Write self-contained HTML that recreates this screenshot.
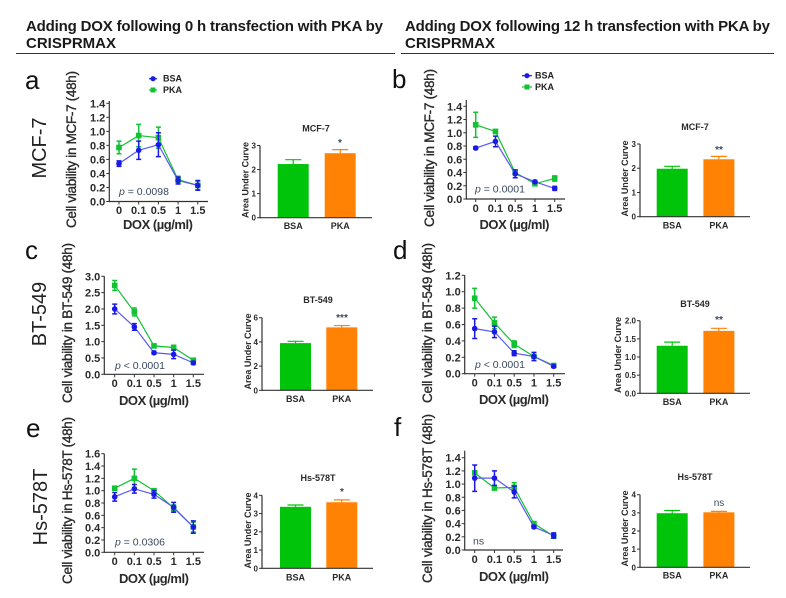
<!DOCTYPE html>
<html lang="en">
<head>
<meta charset="utf-8">
<title>DOX viability panels</title>
<style>
html,body{margin:0;padding:0;background:#fff;}
svg{display:block;font-family:"Liberation Sans",Arial,sans-serif;filter:blur(0.3px);}
</style>
</head>
<body>
<svg id="figure" width="786" height="598" viewBox="0 0 786 598" xmlns="http://www.w3.org/2000/svg">
  <g font-weight="bold" font-size="15" fill="#1a1a1a">
    <text x="26" y="31" textLength="357" lengthAdjust="spacing">Adding DOX following 0 h transfection with PKA by</text>
    <text x="26" y="48">CRISPRMAX</text>
  </g>
  <line x1="16" x2="395" y1="53.5" y2="53.5" stroke="#333" stroke-width="1"/>
  <g font-weight="bold" font-size="15" fill="#1a1a1a">
    <text x="405" y="31" textLength="365" lengthAdjust="spacing">Adding DOX following 12 h transfection with PKA by</text>
    <text x="405" y="48">CRISPRMAX</text>
  </g>
  <line x1="401" x2="774" y1="53.5" y2="53.5" stroke="#333" stroke-width="1"/>

  <g font-size="26" fill="#111">
    <text x="25" y="89">a</text>
    <text x="392" y="88">b</text>
    <text x="25" y="259">c</text>
    <text x="393" y="259">d</text>
    <text x="26" y="437">e</text>
    <text x="394" y="436">f</text>
  </g>
  <g font-size="20" fill="#222" text-anchor="middle">
    <text transform="translate(46 148) rotate(-90)">MCF-7</text>
    <text transform="translate(46 314) rotate(-90)">BT-549</text>
    <text transform="translate(47 507) rotate(-90)">Hs-578T</text>
  </g>

  <g font-size="9" font-weight="bold" fill="#222">
    <line x1="149" x2="157" y1="78.7" y2="78.7" stroke="#1a1ae6" stroke-width="1.2"/>
    <circle cx="153" cy="78.7" r="2.6" fill="#1a1ae6"/>
    <text x="163" y="81.7">BSA</text>
    <line x1="149" x2="157" y1="90" y2="90" stroke="#12c232" stroke-width="1.2"/>
    <rect x="150.5" y="87.5" width="5" height="5" fill="#12c232"/>
    <text x="163" y="93">PKA</text>
  </g>
  <g font-size="9" font-weight="bold" fill="#222">
    <line x1="522" x2="532" y1="75.7" y2="75.7" stroke="#1a1ae6" stroke-width="1.2"/>
    <circle cx="527" cy="75.7" r="2.6" fill="#1a1ae6"/>
    <text x="535" y="78.7">BSA</text>
    <line x1="522" x2="532" y1="87" y2="87" stroke="#12c232" stroke-width="1.2"/>
    <rect x="524.5" y="84.5" width="5" height="5" fill="#12c232"/>
    <text x="535" y="90">PKA</text>
  </g>
</svg>

<script>
// ---- data ----
var doseLabels = ['0', '0.1', '0.5', '1', '1.5'];
var barCategories = ['BSA', 'PKA'];

var aBsa = [0.54, 0.73, 0.81, 0.30, 0.23];
var aBsaErr = [0.04, 0.13, 0.17, 0.05, 0.07];
var aPka = [0.77, 0.94, 0.91, 0.31, 0.23];
var aPkaErr = [0.09, 0.16, 0.15, 0.05, 0.06];
var aTicks = ['0.0', '0.2', '0.4', '0.6', '0.8', '1.0', '1.2', '1.4'];
var aAuc = [2.23, 2.68];
var aAucErr = [0.18, 0.15];
var aAucTicks = ['0', '1', '2', '3'];

var bBsa = [0.77, 0.87, 0.38, 0.26, 0.16];
var bBsaErr = [0.02, 0.08, 0.06, 0.02, 0.03];
var bPka = [1.12, 1.02, 0.40, 0.23, 0.31];
var bPkaErr = [0.19, 0.03, 0.03, 0.03, 0.04];
var bTicks = ['0.0', '0.2', '0.4', '0.6', '0.8', '1.0', '1.2', '1.4'];
var bAuc = [1.98, 2.37];
var bAucErr = [0.10, 0.12];
var bAucTicks = ['0', '1', '2', '3'];

var cBsa = [2.00, 1.45, 0.66, 0.61, 0.35];
var cBsaErr = [0.15, 0.10, 0.04, 0.13, 0.05];
var cPka = [2.72, 1.91, 0.87, 0.82, 0.43];
var cPkaErr = [0.15, 0.12, 0.05, 0.07, 0.03];
var cTicks = ['0.0', '0.5', '1.0', '1.5', '2.0', '2.5', '3.0'];
var cAuc = [3.90, 5.20];
var cAucErr = [0.15, 0.15];
var cAucTicks = ['0', '2', '4', '6'];

var dBsa = [0.55, 0.51, 0.25, 0.21, 0.09];
var dBsaErr = [0.12, 0.07, 0.03, 0.05, 0.01];
var dPka = [0.92, 0.62, 0.36, 0.21, 0.10];
var dPkaErr = [0.12, 0.07, 0.04, 0.02, 0.01];
var dTicks = ['0.0', '0.2', '0.4', '0.6', '0.8', '1.0', '1.2'];
var dAuc = [1.31, 1.72];
var dAucErr = [0.10, 0.07];
var dAucTicks = ['0.0', '0.5', '1.0', '1.5', '2.0'];

var eBsa = [0.90, 1.03, 0.94, 0.73, 0.41];
var eBsaErr = [0.07, 0.07, 0.06, 0.08, 0.10];
var ePka = [1.04, 1.20, 1.00, 0.72, 0.41];
var ePkaErr = [0.01, 0.15, 0.03, 0.05, 0.08];
var eTicks = ['0.0', '0.2', '0.4', '0.6', '0.8', '1.0', '1.2', '1.4', '1.6'];
var eAuc = [3.37, 3.62];
var eAucErr = [0.10, 0.13];
var eAucTicks = ['0', '1', '2', '3', '4'];

var fBsa = [1.09, 1.09, 0.88, 0.35, 0.22];
var fBsaErr = [0.20, 0.11, 0.09, 0.02, 0.04];
var fPka = [1.17, 0.94, 0.95, 0.40, 0.21];
var fPkaErr = [0.02, 0.03, 0.07, 0.03, 0.03];
var fTicks = ['0.0', '0.2', '0.4', '0.6', '0.8', '1.0', '1.2', '1.4'];
var fAuc = [2.98, 3.03];
var fAucErr = [0.15, 0.05];
var fAucTicks = ['0', '1', '2', '3', '4'];

// ---- layout ----
var BLUE = '#1a1ae6', BLUE_LINE = '#5a5af0', GREEN = '#12c232', BAR_GREEN = '#00c40a', BAR_ORANGE = '#ff8205', INK = '#2a2a2a';
var svg = document.getElementById('figure');
var NS = 'http://www.w3.org/2000/svg';

function make(tag, parent, attrs) {
  var n = document.createElementNS(NS, tag);
  for (var k in attrs) n.setAttribute(k, attrs[k]);
  parent.appendChild(n);
  return n;
}
function label(parent, str, x, y, size, weight, anchor, len, rotate, fill) {
  var attrs = {'font-size': size, 'font-weight': weight, 'text-anchor': anchor, fill: fill || INK};
  if (rotate) attrs.transform = 'translate(' + x + ' ' + y + ') rotate(-90)';
  else { attrs.x = x; attrs.y = y; }
  if (len) { attrs.textLength = len; attrs.lengthAdjust = 'spacing'; }
  var t = make('text', parent, attrs);
  t.textContent = str;
  return t;
}

function drawLinePanel(p) {
  var g = make('g', svg, {});
  
  

  var unit = (p.y0 - p.yRef) / parseFloat(p.ticks[p.ticks.length - 1]);
  var yScale = function (v) { return p.y0 - v * unit; };
  var xScale = function (i) { return p.x0 + i * p.xStep; };

  var yAxis = make('line', g, {x1: p.axisX, x2: p.axisX, y1: p.y0 + 0.6, y2: p.axisTop, stroke: '#333', 'stroke-width': 1.2});
  
  
  var xAxis = make('line', g, {x1: p.axisX, x2: p.axisEnd, y1: p.y0, y2: p.y0, stroke: '#333', 'stroke-width': 1.2});
  
  

  p.ticks.forEach(function (t) {
    var y = yScale(parseFloat(t));
    var tick = make('line', g, {x1: p.axisX - 3, x2: p.axisX, y1: y, y2: y, stroke: '#333', 'stroke-width': 1});
    
    
    var tl = label(g, t, p.axisX - 4, y + 4, 11, 'bold', 'end', 0, false);
    
    
  });
  doseLabels.forEach(function (d, i) {
    var x = xScale(i);
    var tick = make('line', g, {x1: x, x2: x, y1: p.y0, y2: p.y0 + 3, stroke: '#333', 'stroke-width': 1});
    
    
    var tl = label(g, d, x, p.xLabelY, 11, 'bold', 'middle', 0, false);
    
    
  });

  var ySeries = [
    {name: 'pka', vals: p.pka, errs: p.pkaErr, color: GREEN, line: GREEN, square: true},
    {name: 'bsa', vals: p.bsa, errs: p.bsaErr, color: BLUE, line: BLUE_LINE, square: false}
  ];
  ySeries.forEach(function (s) {
    var pts = s.vals.map(function (v, i) { return xScale(i) + ',' + yScale(v); }).join(' ');
    var pl = make('polyline', g, {points: pts, fill: 'none', stroke: s.line, 'stroke-width': 1.2});
    
    
    s.vals.forEach(function (v, i) {
      var x = xScale(i), y = yScale(v), e = s.errs[i];
      var eb = make('path', g, {
        d: 'M' + x + ' ' + yScale(v - e) + 'V' + yScale(v + e) +
           'M' + (x - 2.5) + ' ' + yScale(v + e) + 'H' + (x + 2.5) +
           'M' + (x - 2.5) + ' ' + yScale(v - e) + 'H' + (x + 2.5),
        fill: 'none', stroke: s.color, 'stroke-width': 1.5
      });
      
      
      var mark = s.square
        ? make('rect', g, {x: x - 2.8, y: y - 2.8, width: 5.6, height: 5.6, fill: s.color})
        : make('circle', g, {cx: x, cy: y, r: 2.8, fill: s.color});
      
      
    });
  });

  var yt = label(g, p.yTitle, p.yTitleX, p.yTitleY, 13.5, 'normal', 'middle', p.yTitleLen, true);
  yt.setAttribute('stroke', INK);
  yt.setAttribute('stroke-width', '0.35');
  
  
  var xt = label(g, 'DOX (\u00b5g/ml)', p.xTitleX, p.xTitleBase, 13, 'bold', 'middle', 70, false);
  
  

  var st = make('text', g, {x: p.pX, y: p.pY, 'font-size': 10.5, fill: '#3a4a60'});
  
  
  if (p.pText === 'ns') {
    st.textContent = 'ns';
  } else {
    var it = make('tspan', st, {'font-style': 'italic'});
    it.textContent = 'p';
    var rest = make('tspan', st, {});
    rest.textContent = ' ' + p.pText;
  }
}

function drawBarPanel(p) {
  var g = make('g', svg, {});
  
  

  var unit = (p.y0 - p.yRef) / parseFloat(p.ticks[p.ticks.length - 1]);
  var yScale = function (v) { return p.y0 - v * unit; };
  var barX = function (i) { return p.barStart + i * p.barStep; };
  var barW = 31;
  var colors = [BAR_GREEN, BAR_ORANGE];

  p.values.forEach(function (v, i) {
    var x = barX(i), top = yScale(v), hi = yScale(v + p.errs[i]), c = colors[i];
    var eb = make('path', g, {
      d: 'M' + (x + barW / 2) + ' ' + top + 'V' + hi + 'M' + (x + barW / 2 - 8) + ' ' + hi + 'H' + (x + barW / 2 + 8),
      fill: 'none', stroke: c, 'stroke-width': 1.2
    });
    
    
    var r = make('rect', g, {x: x, y: top, width: barW, height: p.y0 - top, fill: c});
    
    
    var tl = label(g, barCategories[i], x + barW / 2, p.labelY, 9, 'bold', 'middle', 0, false);
    
    
  });

  var yAxis = make('line', g, {x1: p.axisX, x2: p.axisX, y1: p.y0 + 0.6, y2: p.yRef, stroke: '#333', 'stroke-width': 1.2});
  
  
  var xAxis = make('line', g, {x1: p.axisX, x2: p.axisEnd, y1: p.y0, y2: p.y0, stroke: '#333', 'stroke-width': 1.2});
  
  

  p.ticks.forEach(function (t) {
    var y = yScale(parseFloat(t));
    var tick = make('line', g, {x1: p.axisX - 3, x2: p.axisX, y1: y, y2: y, stroke: '#333', 'stroke-width': 1});
    
    
    var tl = label(g, t, p.axisX - 4, y + 3, 8, 'bold', 'end', 0, false);
    
    
  });

  var ti = label(g, p.title, p.titleX, p.titleY, 9, 'bold', 'middle', 0, false);
  
  
  var yt = label(g, 'Area Under Curve', p.yTitleX, p.yTitleY, 9, 'bold', 'middle', 76, true);
  
  
  var sig = label(g, p.sig, p.sigX, p.sigY, 10, p.sig === 'ns' ? 'normal' : 'bold', 'middle', 0, false, '#3a4a60');
  
  
}

// ---- panels ----
drawLinePanel({id: 'a', bsa: aBsa, bsaErr: aBsaErr, pka: aPka, pkaErr: aPkaErr, ticks: aTicks,
  axisX: 109.3, axisTop: 101, axisEnd: 208, y0: 201.5, yRef: 103.3, x0: 119, xStep: 19.7, xLabelY: 214,
  yTitle: 'Cell viability in MCF-7 (48h)', yTitleX: 76, yTitleY: 149.5, yTitleLen: 157,
  xTitleX: 158, xTitleBase: 229, pX: 119, pY: 195, pText: '= 0.0098'});
drawLinePanel({id: 'b', bsa: bBsa, bsaErr: bBsaErr, pka: bPka, pkaErr: bPkaErr, ticks: bTicks,
  axisX: 466.3, axisTop: 100, axisEnd: 565, y0: 199, yRef: 106.3, x0: 475.7, xStep: 19.75, xLabelY: 212,
  yTitle: 'Cell viability in MCF-7 (48h)', yTitleX: 434, yTitleY: 148, yTitleLen: 158,
  xTitleX: 514.5, xTitleBase: 229, pX: 475, pY: 192.7, pText: '= 0.0001'});
drawLinePanel({id: 'c', bsa: cBsa, bsaErr: cBsaErr, pka: cPka, pkaErr: cPkaErr, ticks: cTicks,
  axisX: 104.3, axisTop: 276.3, axisEnd: 204, y0: 374.3, yRef: 276.3, x0: 114.7, xStep: 19.65, xLabelY: 387,
  yTitle: 'Cell viability in BT-549 (48h)', yTitleX: 72, yTitleY: 323, yTitleLen: 160,
  xTitleX: 154, xTitleBase: 405, pX: 115, pY: 369, pText: '< 0.0001'});
drawLinePanel({id: 'd', bsa: dBsa, bsaErr: dBsaErr, pka: dPka, pkaErr: dPkaErr, ticks: dTicks,
  axisX: 464.7, axisTop: 275.3, axisEnd: 565, y0: 373.7, yRef: 275.3, x0: 474.7, xStep: 19.75, xLabelY: 386.7,
  yTitle: 'Cell viability in BT-549 (48h)', yTitleX: 432, yTitleY: 323, yTitleLen: 160,
  xTitleX: 514, xTitleBase: 404, pX: 475, pY: 368, pText: '< 0.0001'});
drawLinePanel({id: 'e', bsa: eBsa, bsaErr: eBsaErr, pka: ePka, pkaErr: ePkaErr, ticks: eTicks,
  axisX: 104.3, axisTop: 453.7, axisEnd: 204, y0: 552.3, yRef: 453.7, x0: 114.7, xStep: 19.65, xLabelY: 565,
  yTitle: 'Cell viability in Hs-578T (48h)', yTitleX: 72, yTitleY: 500.5, yTitleLen: 167,
  xTitleX: 154, xTitleBase: 583, pX: 115, pY: 545.7, pText: '= 0.0306'});
drawLinePanel({id: 'f', bsa: fBsa, bsaErr: fBsaErr, pka: fPka, pkaErr: fPkaErr, ticks: fTicks,
  axisX: 464.7, axisTop: 450.7, axisEnd: 563, y0: 550, yRef: 457.7, x0: 474.7, xStep: 19.75, xLabelY: 563,
  yTitle: 'Cell viability in Hs-578T (48h)', yTitleX: 432, yTitleY: 498.5, yTitleLen: 169,
  xTitleX: 514, xTitleBase: 581, pX: 473, pY: 544.7, pText: 'ns'});

drawBarPanel({id: 'a', title: 'MCF-7', values: aAuc, errs: aAucErr, ticks: aAucTicks,
  axisX: 260, axisEnd: 372, y0: 217.7, yRef: 145.5, barStart: 277.7, barStep: 47, labelY: 229,
  titleX: 316, titleY: 131.7, yTitleX: 248.5, yTitleY: 180, sig: '*', sigX: 340, sigY: 146});
drawBarPanel({id: 'b', title: 'MCF-7', values: bAuc, errs: bAucErr, ticks: bAucTicks,
  axisX: 640, axisEnd: 750, y0: 216.7, yRef: 144, barStart: 656.7, barStep: 46.7, labelY: 228.7,
  titleX: 695, titleY: 130, yTitleX: 628, yTitleY: 178.5, sig: '**', sigX: 719, sigY: 153});
drawBarPanel({id: 'c', title: 'BT-549', values: cAuc, errs: cAucErr, ticks: cAucTicks,
  axisX: 262, axisEnd: 373, y0: 390.3, yRef: 317.7, barStart: 280, barStep: 46.3, labelY: 402,
  titleX: 318, titleY: 303, yTitleX: 251, yTitleY: 351.5, sig: '***', sigX: 342, sigY: 321});
drawBarPanel({id: 'd', title: 'BT-549', values: dAuc, errs: dAucErr, ticks: dAucTicks,
  axisX: 640, axisEnd: 750, y0: 393.3, yRef: 320.7, barStart: 656.7, barStep: 46.7, labelY: 405,
  titleX: 695, titleY: 307, yTitleX: 621, yTitleY: 355, sig: '**', sigX: 719, sigY: 323});
drawBarPanel({id: 'e', title: 'Hs-578T', values: eAuc, errs: eAucErr, ticks: eAucTicks,
  axisX: 262, axisEnd: 373, y0: 568.3, yRef: 495.3, barStart: 280, barStep: 46.3, labelY: 580.7,
  titleX: 318, titleY: 481, yTitleX: 251, yTitleY: 530.5, sig: '*', sigX: 342, sigY: 495});
drawBarPanel({id: 'f', title: 'Hs-578T', values: fAuc, errs: fAucErr, ticks: fAucTicks,
  axisX: 640, axisEnd: 750, y0: 567.3, yRef: 494.7, barStart: 656.7, barStep: 46.7, labelY: 578.7,
  titleX: 695, titleY: 480, yTitleX: 628, yTitleY: 528.5, sig: 'ns', sigX: 719, sigY: 506});
</script>
</body>
</html>
